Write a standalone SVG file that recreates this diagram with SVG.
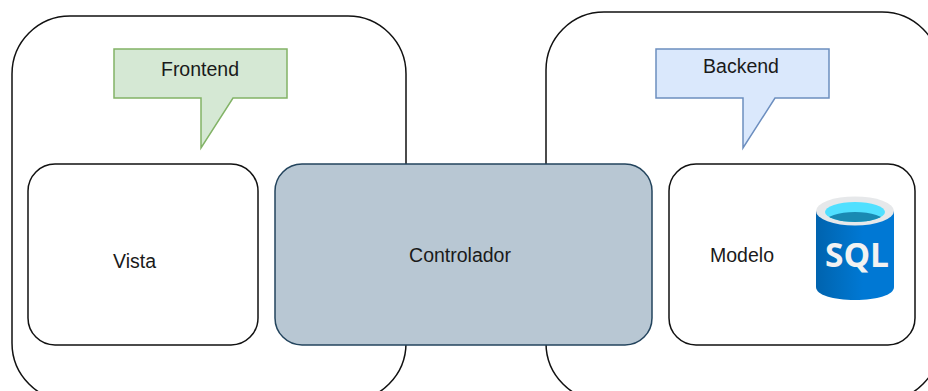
<svg xmlns="http://www.w3.org/2000/svg" width="928" height="391" viewBox="0 0 928 391">
<defs>
<linearGradient id="cyl" x1="0" x2="1" y1="0" y2="0"><stop offset="0" stop-color="#0063ae"/><stop offset="0.35" stop-color="#0070c4"/><stop offset="0.6" stop-color="#0078d4"/><stop offset="1" stop-color="#0078d4"/></linearGradient>
<clipPath id="well"><ellipse cx="855" cy="212" rx="30" ry="10"/></clipPath>
</defs>
<style>
text{font-family:"Liberation Sans","Arimo",Arial,sans-serif;font-size:19.5px;fill:#1a1a1a;text-anchor:middle}
.o{fill:#fff;stroke:#111;stroke-width:1.5}
</style>
<rect width="928" height="391" fill="#fff"/>
<g id="frontend-area"><rect class="o" x="12" y="16" width="394" height="385" rx="58"/></g>
<g id="backend-area"><rect class="o" x="546" y="12" width="394" height="389" rx="58"/></g>
<g id="frontend"><path d="M114 49H287V98H233L201 148V98H114Z" fill="#d5e8d4" stroke="#82b366" stroke-width="1.5"/><text x="200" y="76">Frontend</text></g>
<g id="backend"><path d="M656 49H829V98H775L743 148V98H656Z" fill="#dae8fc" stroke="#6c8ebf" stroke-width="1.5"/><text x="741" y="73">Backend</text></g>
<g id="vista"><rect class="o" x="28" y="164" width="230" height="181" rx="27"/><text x="134.500" y="268">Vista</text></g>
<g id="controlador"><rect x="275" y="164" width="377" height="181" rx="27" fill="#b8c7d3" stroke="#23445d" stroke-width="1.5"/><text x="460" y="262">Controlador</text></g>
<g id="modelo"><rect class="o" x="669" y="164" width="246" height="181" rx="27"/><text x="742" y="262">Modelo</text>
<path d="M816 211V287C816 295 833 300 855 300S894 295 894 287V211Z" fill="url(#cyl)"/>
<ellipse cx="855" cy="211" rx="39" ry="14.500" fill="#e6e8ea"/>
<ellipse cx="855" cy="212" rx="30" ry="10" fill="#50e0ff"/>
<ellipse cx="855" cy="222" rx="30" ry="10" fill="#198ab3" clip-path="url(#well)"/>
<text x="857" y="267" style="font-family:'Open Sans','Liberation Sans',sans-serif;font-size:33.500px;font-weight:700;fill:#f2f2f2">SQL</text></g>
</svg>
